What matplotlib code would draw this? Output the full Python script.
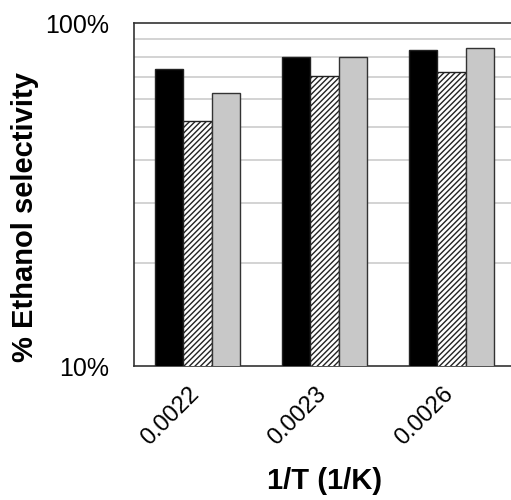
import numpy as np
import matplotlib.pyplot as plt
import matplotlib.transforms as mtransforms
from matplotlib.ticker import FixedLocator, NullFormatter

plt.rcParams['font.family'] = ['Liberation Sans', 'DejaVu Sans']
plt.rcParams['hatch.linewidth'] = 1.0

categories = ['0.0022', '0.0023', '0.0026']
series_a = [73.8, 80.0, 83.5]   # black
series_b = [52.0, 70.4, 72.0]   # hatched
series_c = [62.7, 79.7, 84.6]   # gray

fig = plt.figure(figsize=(5.11, 5.00), dpi=100)
ax = fig.add_axes([134 / 511, 1 - 366 / 500, 381 / 511, (366 - 23.5) / 500])

x = np.arange(len(categories))
w = 0.225
ax.bar(x - w, series_a, w, color='black', edgecolor='#222222', linewidth=1, zorder=3)
ax.bar(x, series_b, w, color='white', edgecolor='#222222', hatch='//////', linewidth=1, zorder=3)
ax.bar(x + w, series_c, w, color='#c8c8c8', edgecolor='#333333', linewidth=1, zorder=3)

ax.set_yscale('log')
ax.set_ylim(10, 100)
ax.set_xlim(-0.5, 2.5)
ax.yaxis.set_major_locator(FixedLocator([10, 100]))
ax.set_yticklabels(['10%', '100%'])
ax.yaxis.set_minor_locator(FixedLocator([20, 30, 40, 50, 60, 70, 80, 90]))
ax.yaxis.set_minor_formatter(NullFormatter())
ax.grid(True, which='minor', axis='y', color='#d0d0d0', linewidth=1.3, zorder=0)
ax.tick_params(axis='y', which='both', length=0, labelsize=18, pad=18)

ax.set_xticks(x)
ax.set_xticklabels(categories, rotation=45, ha='right', rotation_mode='anchor', fontsize=17)
ax.tick_params(axis='x', length=0, pad=12)
shift = mtransforms.ScaledTranslation(-9 / 100, 0, fig.dpi_scale_trans)
for lbl in ax.get_xticklabels():
    lbl.set_transform(lbl.get_transform() + shift)

for s in ax.spines.values():
    s.set_color('#333333')
    s.set_linewidth(1.2)

ax.set_xlabel('1/T (1/K)', fontsize=21, fontweight='bold', labelpad=13)
ax.set_ylabel('% Ethanol selectivity', fontsize=21, fontweight='bold', va='center')
ax.yaxis.set_label_coords((25 - 134) / 381, (366 - 217) / 342.5)

fig.savefig('out.png', dpi=100)
